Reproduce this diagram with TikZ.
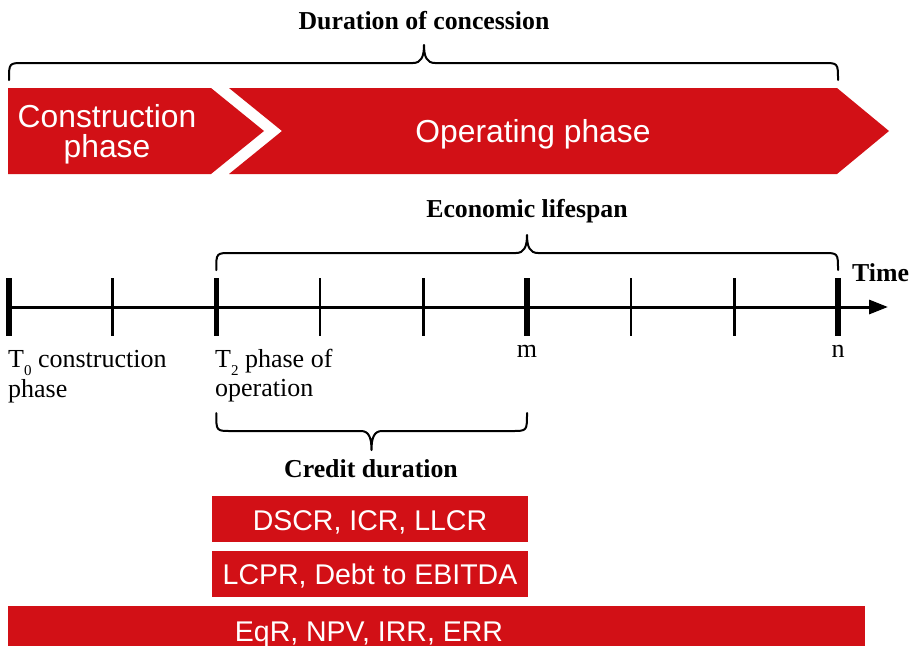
\documentclass[tikz,border=0pt]{standalone}
\usepackage{fontspec}
\setmainfont{Liberation Serif}
\newfontfamily\sansf{Liberation Sans}
\usetikzlibrary{arrows.meta}
\definecolor{cred}{RGB}{210,16,22}
\newcommand\tsub[1]{\raisebox{-8pt}[0pt][0pt]{\fontsize{15}{15}\selectfont #1}}
\tikzset{
  bracepath/.style={draw=black, line width=2pt, line cap=round, line join=round},
  boldlab/.style={font=\fontsize{25.8}{29}\selectfont\bfseries, inner sep=0pt},
  lab/.style={font=\fontsize{26}{30}\selectfont, inner sep=0pt},
  phasetxt/.style={text=white, font=\sansf\fontsize{31.8}{30}\selectfont, inner sep=0pt},
  boxtxt/.style={text=white, font=\sansf\fontsize{28.5}{30}\selectfont, inner sep=0pt},
  redfill/.style={fill=cred, draw=none},
  axisline/.style={draw=black, line width=3pt},
  bigtick/.style={draw=black, line width=5.5pt},
  smalltick/.style={draw=black, line width=2.5pt},
}
\begin{document}
\begin{tikzpicture}[x=1pt,y=-1pt]
\useasboundingbox (0,0) rectangle (915,645);
\fill[white] (0,0) rectangle (915,645);

% chevrons
\fill[cred] (8,88) -- (211,88) -- (264,131) -- (211,174) -- (8,174) -- cycle;
\fill[cred] (229,88) -- (837,88) -- (889,131) -- (837,174) -- (229,174) -- (282,131) -- cycle;
\node[phasetxt, anchor=base] (cp1) at (107,127) {Construction};
\node[phasetxt, anchor=base] (cp2) at (107,157) {phase};
\node[phasetxt, anchor=base] (op) at (533,142) {Operating phase};

% top brace
\node[boldlab, anchor=base] (doc) at (424,29) {Duration of concession};
\draw[bracepath] (9,80) .. controls (9,63) .. (24,63) -- (413,63)
  .. controls (421,63) and (424,57) .. (424,45)
  .. controls (424,57) and (427,63) .. (435,63) -- (823,63)
  .. controls (838,63) .. (838,80);

% timeline
\coordinate (ax0) at (8,307);
\coordinate (ax1) at (888,307);
\draw[axisline, -{Triangle[length=19pt,width=14pt]}] (ax0) -- (ax1);
\foreach \x in {9,216.25,527.1,838} \draw[bigtick] (\x,278) -- (\x,336);
\foreach \x in {112.6,319.9,423.5,630.75,734.4} \draw[smalltick] (\x,278) -- (\x,336);

\node[boldlab, anchor=base west] (time) at (852,281) {Time};

% economic lifespan brace
\node[boldlab, anchor=base] (eco) at (527,217) {Economic lifespan};
\draw[bracepath] (216.25,270) .. controls (216.25,253) .. (231,253) -- (516,253)
  .. controls (524,253) and (527,247) .. (527,235)
  .. controls (527,247) and (530,253) .. (538,253) -- (823,253)
  .. controls (838,253) .. (838,270);

% tick labels
\node[lab, anchor=base west] (t0a) at (8,367) {T\tsub{0} construction};
\node[lab, anchor=base west] (t0b) at (8,397) {phase};
\node[lab, anchor=base west] (t2a) at (215,367) {T\tsub{2} phase of};
\node[lab, anchor=base west] (t2b) at (215,396) {operation};
\node[lab, anchor=base] (m) at (527,357) {m};
\node[lab, anchor=base] (n) at (838,357) {n};

% credit brace
\draw[bracepath] (216.25,413) .. controls (216.25,431) .. (231,431) -- (361,431)
  .. controls (369,431) and (371.5,438) .. (371.5,450)
  .. controls (371.5,438) and (374,431) .. (382,431) -- (512,431)
  .. controls (527,431) .. (527,413);
\node[boldlab, anchor=base] (cd) at (371,477) {Credit duration};

% boxes
\fill[cred] (212,496) rectangle (528,542);
\fill[cred] (212,551) rectangle (528,597);
\fill[cred] (8,606) rectangle (865,650);
\node[boxtxt, anchor=base] (b1) at (370,530) {DSCR, ICR, LLCR};
\node[boxtxt, anchor=base] (b2) at (370,584) {LCPR, Debt to EBITDA};
\node[boxtxt, anchor=base] (b3) at (369,641) {EqR, NPV, IRR, ERR};
\end{tikzpicture}
\end{document}
